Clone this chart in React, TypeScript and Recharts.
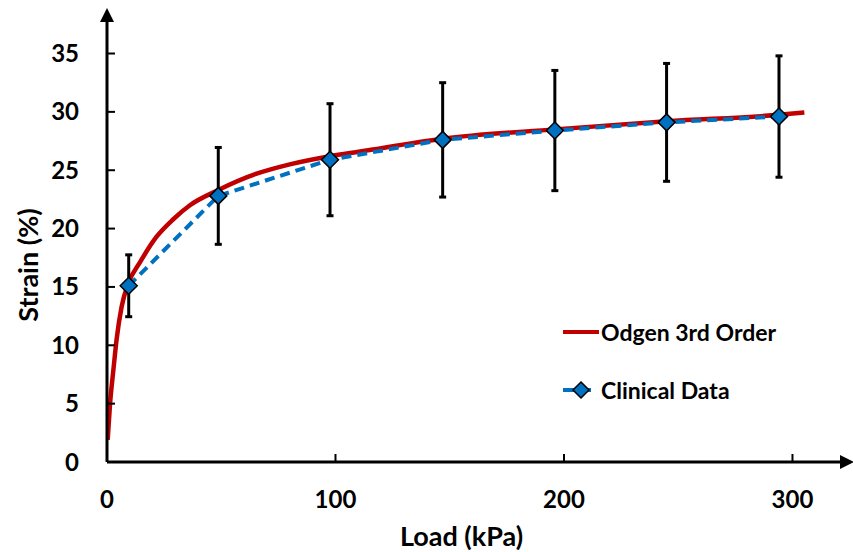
import React from 'react';
import {
  ComposedChart,
  Line,
  XAxis,
  YAxis,
  ErrorBar,
  Label,
} from 'recharts';

// Odgen 3rd order fit
const fitLoad = [0.3, 1.3, 2.8, 4.2, 6.4, 9.3, 14.4, 21.7, 29, 36.3, 48.7, 65.5, 80, 97.6, 110.7, 146.9, 196, 245, 294, 305.2];
const fitStrain = [1.9, 4.9, 7.9, 10.5, 13.3, 15.3, 17.1, 19.3, 20.8, 22.0, 23.3, 24.7, 25.5, 26.2, 26.6, 27.7, 28.5, 29.2, 29.75, 29.95];

// clinical measurements with error bars
const clinicalLoad = [9.5, 48.7, 97.6, 146.9, 196, 244.9, 294.1];
const clinicalStrain = [15.1, 22.8, 25.9, 27.6, 28.4, 29.1, 29.6];
const clinicalError = [2.65, 4.15, 4.8, 4.9, 5.15, 5.05, 5.2];

const xTicks = [0, 100, 200, 300];
const yTicks = [0, 5, 10, 15, 20, 25, 30, 35];

const fitData = fitLoad.map((x, i) => ({ x, y: fitStrain[i] }));
const clinicalData = clinicalLoad.map((x, i) => ({
  x,
  y: clinicalStrain[i],
  err: clinicalError[i],
}));

const FONT = 'Lato, "Open Sans", sans-serif';
const RED = '#C00000';
const BLUE = '#0070C0';

const Diamond = (props: any) => {
  const { cx, cy } = props;
  if (cx == null || cy == null) return null;
  const r = 8.5;
  return (
    <polygon
      points={`${cx},${cy - r} ${cx + r},${cy} ${cx},${cy + r} ${cx - r},${cy}`}
      fill={BLUE}
      stroke="#000"
      strokeWidth={1.5}
    />
  );
};

const ChartLegend = () => (
  <div
    style={{
      position: 'absolute',
      left: 561,
      top: 317,
      fontFamily: FONT,
      fontWeight: 700,
      fontSize: 23,
      color: '#000',
    }}
  >
    <div style={{ display: 'flex', alignItems: 'center', height: 30 }}>
      <svg width={40} height={10}>
        <line x1={2} y1={5} x2={38} y2={5} stroke={RED} strokeWidth={4} />
      </svg>
      <span>Odgen 3rd Order</span>
    </div>
    <div style={{ display: 'flex', alignItems: 'center', height: 30, marginTop: 28 }}>
      <svg width={40} height={20}>
        <line x1={2} y1={10} x2={30} y2={10} stroke={BLUE} strokeWidth={4} />
        <polygon points="20,2 28,10 20,18 12,10" fill={BLUE} stroke="#000" strokeWidth={1.5} />
      </svg>
      <span>Clinical Data</span>
    </div>
  </div>
);

export default function App() {
  return (
    <div style={{ position: 'absolute', left: 0, top: 0, width: 853, height: 552, background: '#fff' }}>
      <svg width={0} height={0} style={{ position: 'absolute' }}>
        <defs>
          <marker
            id="axisArrow"
            viewBox="0 0 10 10"
            refX={0}
            refY={5}
            markerWidth={14}
            markerHeight={16}
            markerUnits="userSpaceOnUse"
            orient="auto-start-reverse"
          >
            <path d="M0,0 L10,5 L0,10 z" fill="#000" />
          </marker>
        </defs>
      </svg>
      <ComposedChart
        width={853}
        height={552}
        margin={{ top: 22, right: 13, bottom: 0, left: 0 }}
      >
        <XAxis
          type="number"
          dataKey="x"
          domain={[0, 320.8]}
          ticks={xTicks}
          allowDataOverflow
          axisLine={{ stroke: '#000', strokeWidth: 3, markerEnd: 'url(#axisArrow)' }}
          tickLine={{ stroke: '#000', strokeWidth: 2 }}
          tickSize={-8}
          tickMargin={37}
          height={90}
          tick={{ fontSize: 24, fontWeight: 700, fill: '#000', fontFamily: FONT }}
        >
          <Label
            content={({ viewBox }: any) => (
              <text
                x={viewBox.x + viewBox.width / 2 - 12}
                y={viewBox.y + 73}
                textAnchor="middle"
                dominantBaseline="central"
                fontSize={27}
                fontWeight={700}
                fontFamily={FONT}
                fill="#000"
              >
                Load (kPa)
              </text>
            )}
          />
        </XAxis>
        <YAxis
          type="number"
          dataKey="y"
          domain={[0, 37.7]}
          ticks={yTicks}
          allowDataOverflow
          width={107}
          axisLine={{ stroke: '#000', strokeWidth: 3, markerStart: 'url(#axisArrow)' }}
          tickLine={{ stroke: '#000', strokeWidth: 2 }}
          tickSize={-8}
          tickMargin={36}
          tick={{ fontSize: 24, fontWeight: 700, fill: '#000', fontFamily: FONT }}
        >
          <Label
            content={({ viewBox }: any) => {
              const cx = viewBox.x + 27;
              const cy = viewBox.y + viewBox.height / 2 + 23;
              return (
                <text
                  x={cx}
                  y={cy}
                  transform={`rotate(-90, ${cx}, ${cy})`}
                  textAnchor="middle"
                  dominantBaseline="central"
                  fontSize={27}
                  fontWeight={700}
                  fontFamily={FONT}
                  fill="#000"
                >
                  Strain (%)
                </text>
              );
            }}
          />
        </YAxis>
        <Line
          data={fitData}
          dataKey="y"
          type="monotone"
          stroke={RED}
          strokeWidth={4.5}
          dot={false}
          activeDot={false}
          isAnimationActive={false}
        />
        <Line
          data={clinicalData}
          dataKey="y"
          type="linear"
          stroke={BLUE}
          strokeWidth={4}
          strokeDasharray="10 6"
          dot={<Diamond />}
          activeDot={false}
          isAnimationActive={false}
        >
          <ErrorBar dataKey="err" width={3.5} stroke="#000" strokeWidth={3} direction="y" />
        </Line>
      </ComposedChart>
      <ChartLegend />
    </div>
  );
}
